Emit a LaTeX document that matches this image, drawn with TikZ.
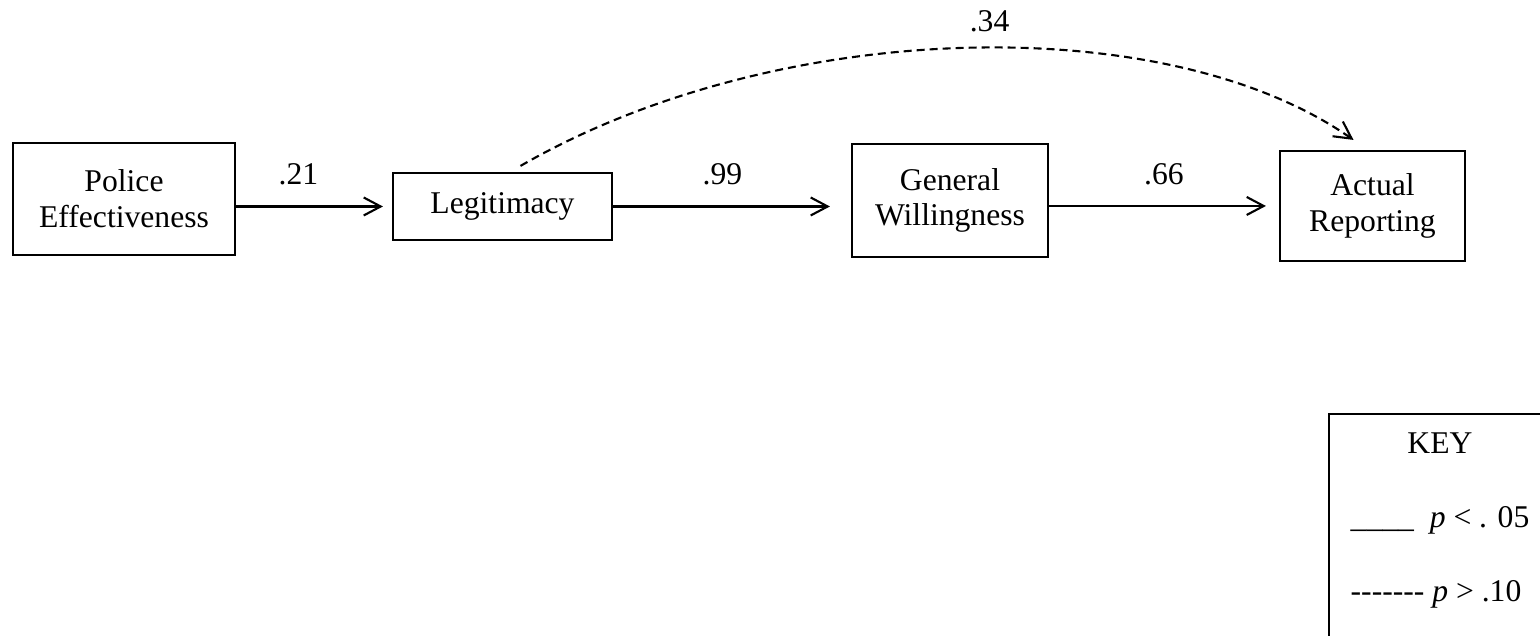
\documentclass[tikz,border=0pt]{standalone}
\usepackage{fontspec}
\setmainfont{Liberation Serif}
\usepackage{tikz}
\usetikzlibrary{arrows.meta}

\begin{document}
\begin{tikzpicture}[
  box/.style={rectangle, draw=black, line width=0.6pt, inner sep=0pt, align=center, font=\fontsize{9}{10.2}\selectfont},
  coef/.style={inner sep=0pt, font=\fontsize{9}{10.2}\selectfont},
  arrow/.style={line width=0.6pt, -{Straight Barb[length=1.7mm, width=1.8mm]}},
  dashed_arrow/.style={arrow, dash pattern=on 0.8mm off 0.5mm}
]
\useasboundingbox (0,0) rectangle (15.40,6.36);
\clip (0,0) rectangle (15.40,6.36);

% Path Model
\node (police) [box, minimum width=2.22cm, minimum height=1.12cm] at (1.24,4.37) {Police\\Effectiveness};
\node (legit) [box, minimum width=2.19cm, minimum height=0.67cm] at (5.025,4.295) {Legitimacy};
\node (general) [box, minimum width=1.96cm, minimum height=1.13cm] at (9.50,4.355) {General\\Willingness};
\node (actual) [box, minimum width=1.85cm, minimum height=1.10cm] at (13.725,4.30) {Actual\\Reporting};

% Paths
\draw [arrow, shorten >=0.09cm] (police.east |- legit.west) -- (legit.west) node[coef, pos=0.4, above=0.2cm] {.21};
\draw [arrow, shorten >=0.21cm] (legit.east) -- (legit.east -| general.west) node[coef, pos=0.46, above=0.2cm] {.99};
\draw [arrow, shorten >=0.13cm] (general.east |- actual.west) -- (actual.west) node[coef, midway, above=0.2cm] {.66};
\draw [dashed_arrow] ([xshift=0.18cm, yshift=0.06cm]legit.north) .. controls +(30:2.95) and +(145:2.3) .. ([xshift=-0.19cm, yshift=0.10cm]actual.north) node[coef, pos=0.53, above=0.15cm] {.34};

% Key
\node (keybox) [draw=black, line width=0.6pt, minimum width=2.41cm, minimum height=2.42cm, inner sep=0pt] at (14.495,1.01) {};
\node (keytitle) [coef, anchor=base] at (14.40,1.82) {KEY};
\node (keysig) [coef, anchor=base west] at (13.50,1.08) {\_\_\_\_\ \ \textit{p} < . 05};
\node (keyns) [coef, anchor=base west] at (13.50,0.34) {-\kern0pt-\kern0pt-\kern0pt-\kern0pt-\kern0pt-\kern0pt- \textit{p} > .10};
\end{tikzpicture}
\end{document}
